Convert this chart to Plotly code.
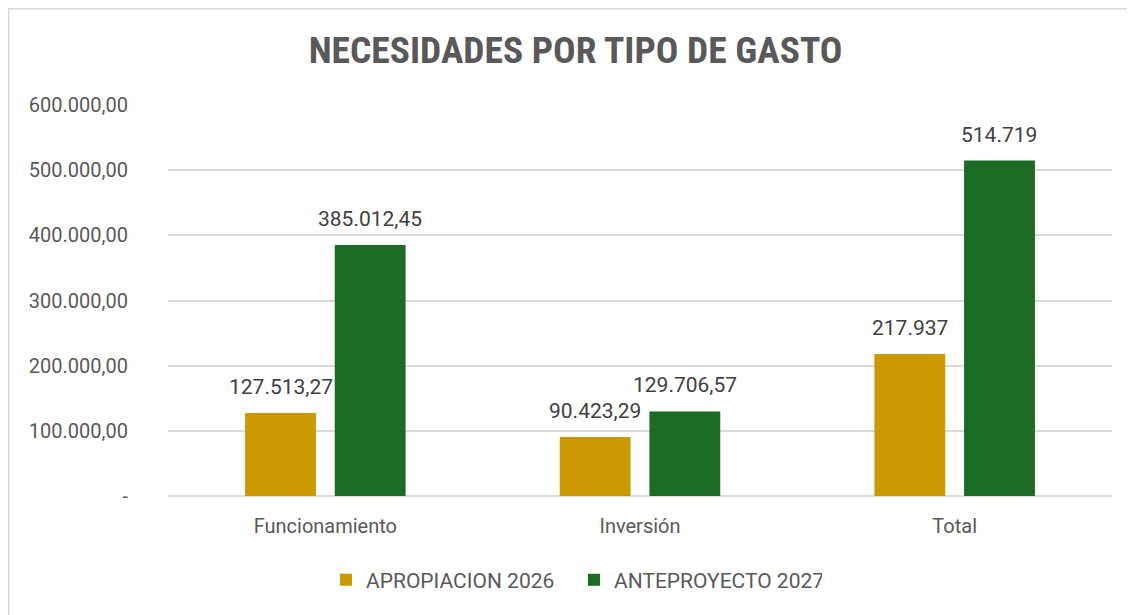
import plotly.graph_objects as go

categories = ["Funcionamiento", "Inversión", "Total"]
apropiacion_2026 = [127513.27, 90423.29, 217937]
anteproyecto_2027 = [385012.45, 129706.57, 514719]
apropiacion_labels = ["127.513,27", "90.423,29", "217.937"]
anteproyecto_labels = ["385.012,45", "129.706,57", "514.719"]
tick_vals = [0, 100000, 200000, 300000, 400000, 500000, 600000]
tick_text = ["-", "100.000,00", "200.000,00", "300.000,00", "400.000,00", "500.000,00", "600.000,00"]

TITLE_FONT = "Roboto Condensed, Liberation Sans Narrow, Roboto, sans-serif"
FONT = "Roboto, sans-serif"

W, H = 1127, 607
ML, MR, MT, MB = 160, 23, 97, 119
PW = W - ML - MR
PH = H - MT - MB

fig = go.Figure()
fig.add_trace(go.Bar(
    x=categories, y=apropiacion_2026, name="APROPIACION 2026",
    marker=dict(color="#CC9900", line=dict(width=0)),
))
fig.add_trace(go.Bar(
    x=categories, y=anteproyecto_2027, name="ANTEPROYECTO 2027",
    marker=dict(color="#1B6B24", line=dict(width=0)),
))

annotations = []
slot_half = 44.75
for vals, labels, sign in [(apropiacion_2026, apropiacion_labels, -1),
                           (anteproyecto_2027, anteproyecto_labels, 1)]:
    for c, v, t in zip(categories, vals, labels):
        annotations.append(dict(
            x=c, y=v, xref="x", yref="y", text=t, showarrow=False,
            xanchor="center", yanchor="middle", xshift=sign * slot_half, yshift=26,
            font=dict(size=21, color="#404040", family=FONT),
        ))

legend_left_page = 341 - 15
fig.update_layout(
    width=W, height=H,
    margin=dict(l=ML, r=MR, t=MT, b=MB),
    paper_bgcolor="white", plot_bgcolor="white",
    barmode="group", bargap=0.43, bargroupgap=0.21,
    font=dict(family=FONT, color="#595959", size=19),
    title=dict(text="<b>NECESIDADES POR TIPO DE GASTO</b>", x=(575.5 - 8) / W, xanchor="center",
               y=1 - 42 / H, yanchor="middle",
               font=dict(size=37.5, color="#595959", family=TITLE_FONT)),
    showlegend=True,
    legend=dict(orientation="h", x=(legend_left_page - 8 - ML) / PW, xanchor="left",
                y=-0.215, yanchor="middle",
                font=dict(size=21, color="#595959", family=FONT), itemwidth=30,
                entrywidth=203, entrywidthmode="pixels",
                traceorder="normal"),
    xaxis=dict(showgrid=False, showline=False, ticks="", ticklabelstandoff=16,
               tickfont=dict(size=20, color="#595959")),
    yaxis=dict(range=[0, 600000], tickvals=tick_vals, ticktext=tick_text,
               showgrid=True, gridcolor="#D9D9D9", gridwidth=1.5,
               zeroline=True, zerolinecolor="#D9D9D9", zerolinewidth=1.5,
               showline=False, ticks="", ticklabelstandoff=39,
               tickfont=dict(size=20, color="#595959")),
    annotations=annotations,
    shapes=[dict(type="rect", xref="paper", yref="paper",
                 x0=(-ML + 0.75) / PW, x1=1.2, y0=-0.5, y1=1 + (MT - 0.75) / PH,
                 line=dict(color="#D9D9D9", width=1.5), fillcolor="rgba(0,0,0,0)",
                 layer="below")],
)

fig.write_html("out.html")
